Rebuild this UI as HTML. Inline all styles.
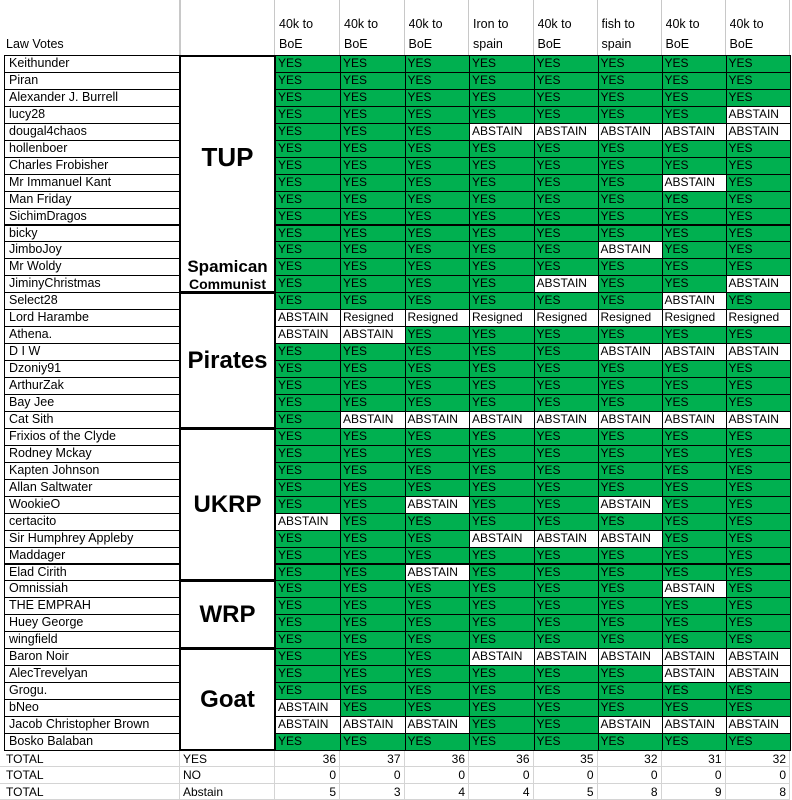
<!DOCTYPE html>
<html><head><meta charset="utf-8">
<style>
body{margin:0;width:792px;height:800px;overflow:hidden;background:#fff;font-family:"Liberation Sans",sans-serif;position:relative}
.a{position:absolute;box-sizing:border-box;white-space:nowrap;overflow:hidden}
.c{font-size:12px;line-height:15px;padding-left:2px;border:1px solid #000}
.g{background:#00b050}
.w{background:#fff}
.n{font-size:12.5px;line-height:15px;padding-left:4px;border:1px solid #000}
.h{font-size:12.5px;color:#000}
.grp{font-weight:bold;text-align:center;border:2px solid #000;display:flex;align-items:center;justify-content:center}
.t{font-size:12px;line-height:16px;border-right:1px solid #d4d4d4;border-bottom:1px solid #d4d4d4}
</style></head><body>
<div id="root"></div>
<script>
const names=["Keithunder","Piran","Alexander J. Burrell","lucy28","dougal4chaos","hollenboer","Charles Frobisher","Mr Immanuel Kant","Man Friday","SichimDragos","bicky","JimboJoy","Mr Woldy","JiminyChristmas","Select28","Lord Harambe","Athena.","D I W","Dzoniy91","ArthurZak","Bay Jee","Cat Sith","Frixios of the Clyde","Rodney Mckay","Kapten Johnson","Allan Saltwater","WookieO","certacito","Sir Humphrey Appleby","Maddager","Elad Cirith","Omnissiah","THE EMPRAH","Huey George","wingfield","Baron Noir","AlecTrevelyan","Grogu.","bNeo","Jacob Christopher Brown","Bosko Balaban"];
const headers1=["40k to","40k to","40k to","Iron to","40k to","fish to","40k to","40k to"];
const headers2=["BoE","BoE","BoE","spain","BoE","spain","BoE","BoE"];
// Y=YES, A=ABSTAIN, R=Resigned
const votes=["YYYYYYYY","YYYYYYYY","YYYYYYYY","YYYYYYYA","YYYAAAAA","YYYYYYYY","YYYYYYYY","YYYYYYAY","YYYYYYYY","YYYYYYYY","YYYYYYYY","YYYYYAYY","YYYYYYYY","YYYYAYYA","YYYYYYAY","ARRRRRRR","AAYYYYYY","YYYYYAAA","YYYYYYYY","YYYYYYYY","YYYYYYYY","YAAAAAAA","YYYYYYYY","YYYYYYYY","YYYYYYYY","YYYYYYYY","YYAYYAYY","AYYYYYYY","YYYAAAYY","YYYYYYYY","YYAYYYYY","YYYYYYAY","YYYYYYYY","YYYYYYYY","YYYYYYYY","YYYAAAAA","YYYYYYAA","YYYYYYYY","AYYYYYYY","AAAYYAAA","YYYYYYYY"];
const groups=[["TUP",0,12,26],["Spamican",12,13,17],["Communist",13,14,14],["Pirates",14,22,24],["UKRP",22,31,24],["WRP",31,35,24],["Goat",35,41,24]];
const totalYes=[36,37,36,36,35,32,31,32];
const totalNo=[0,0,0,0,0,0,0,0];
const totalAbstain=[5,3,4,4,5,8,9,8];
const colX=[275,340,404.5,469,533.5,597.5,661.5,725.5,790];
const Y0=55,RH=16.95;
const root=document.getElementById('root');
function mk(cls,x,y,w,h,txt){const d=document.createElement('div');d.className='a '+cls;d.style.left=x+'px';d.style.top=y+'px';d.style.width=w+'px';d.style.height=h+'px';if(txt!==undefined)d.textContent=txt;root.appendChild(d);return d;}
// header gridlines
for(const x of [180,...colX]){const l=mk('',x-1,0,x===180?2:1,Y0,'');l.style.background='#c8c8c8';}
let e=mk('h',6,37,150,16,'Law Votes');


for(let i=0;i<8;i++){
 e=mk('h',colX[i]+4,17,60,16,headers1[i]);
 
 
 e=mk('h',colX[i]+4,37,60,16,headers2[i]);
 
 
}
names.forEach((nm,r)=>{
 const y=Y0+r*RH;
 e=mk('n',4,y,176,RH+1,nm);
 
 
 for(let i=0;i<8;i++){
  const v=votes[r][i];
  const txt=v==='Y'?'YES':v==='A'?'ABSTAIN':'Resigned';
  e=mk('c '+(v==='Y'?'g':'w'),colX[i],y,colX[i+1]-colX[i]+1,RH+1,txt);
  
  
 }
});
groups.forEach(g=>{
 const y1=Y0+g[1]*RH,y2=Y0+g[2]*RH;
 e=mk('grp',179,y1,97,y2-y1+1,g[0]);
 e.style.fontSize=g[3]+'px';
 e.style.border='none';
 
 
});
// party boxes
[[0,14],[14,22],[22,31],[31,35],[35,41]].forEach(b=>{
 const y1=Y0+b[0]*RH,y2=Y0+b[1]*RH;
 e=mk('',179,y1,97,y2-y1+1,'');e.style.border='2px solid #000';
 
 
});
const tl=["YES","NO","Abstain"],tv=[totalYes,totalNo,totalAbstain];
const TY=Y0+41*RH+1;
for(let k=0;k<3;k++){
 const y=TY+k*16.5;
 e=mk('t',0,y,180,16.5,'TOTAL');e.style.paddingLeft='6px';
 
 
 e=mk('t',180,y,95,16.5,tl[k]);e.style.paddingLeft='3px';
 
 
 for(let i=0;i<8;i++){
  e=mk('t',colX[i],y,colX[i+1]-colX[i],16.5,String(tv[k][i]));
  e.style.textAlign='right';e.style.paddingRight='3px';
  
  
 }
}
</script>
</body></html>
